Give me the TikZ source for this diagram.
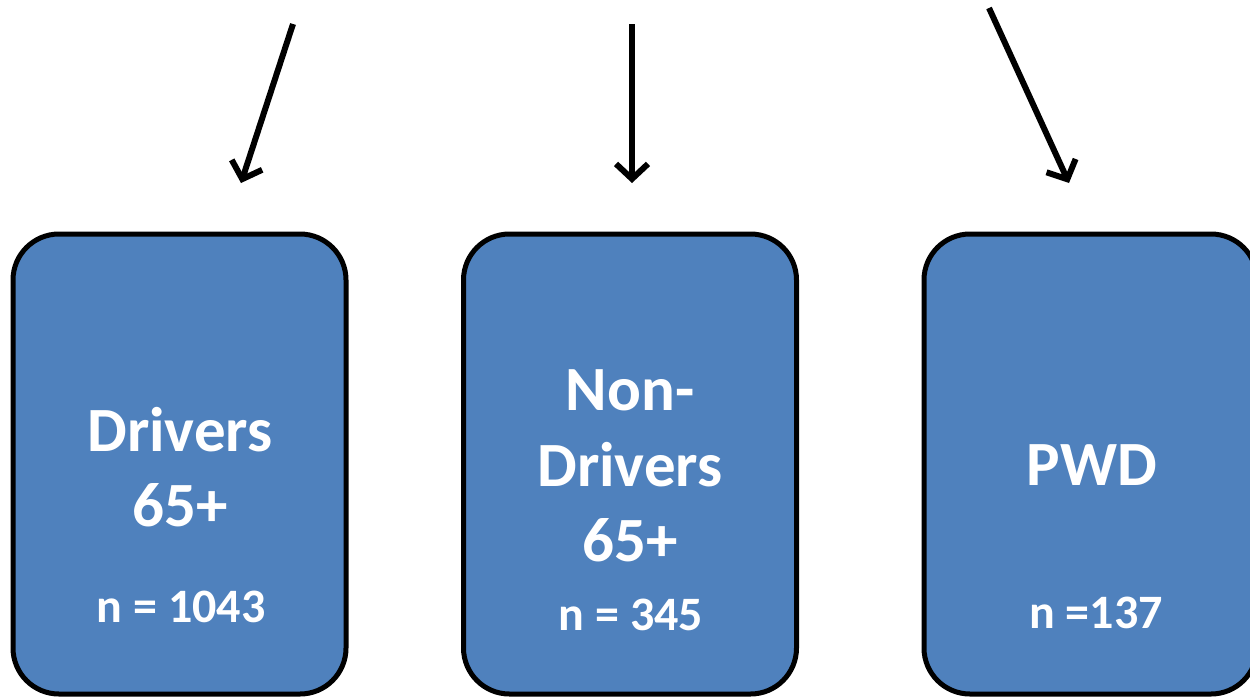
\documentclass[tikz,border=0pt]{standalone}
\usepackage{fontspec}
\setmainfont{Carlito}
\usetikzlibrary{arrows.meta}
\definecolor{boxblue}{HTML}{4F81BD}
\tikzset{
  x=1pt,y=-1pt,
  groupbox/.style={draw=black,line width=5pt,fill=boxblue,rounded corners=46pt,
    minimum width=333pt,minimum height=460pt,inner sep=0pt},
  bigtxt/.style={text=white,font=\bfseries\fontsize{63}{75}\selectfont,inner sep=0pt,anchor=center},
  ntxt/.style={text=white,font=\bfseries\fontsize{48}{56}\selectfont,inner sep=0pt,anchor=center},
  feed/.style={line width=6pt,-{Straight Barb[length=15pt,width=32pt,line width=6pt]}}
}
\begin{document}
\begin{tikzpicture}
\useasboundingbox (0,0) rectangle (1250,697);
\clip (0,0) rectangle (1250,697);
\node[groupbox] (b1) at (179.5,464) {};
\node[groupbox] (b2) at (630,464) {};
\node[groupbox] (b3) at (1090.5,464) {};
\node[bigtxt] (t1a) at (180,430) {Drivers};
\node[bigtxt] (t1b) at (180,505) {65+};
\node[ntxt] (t1c) at (181,607) {n = 1043};
\node[bigtxt] (t2a) at (630,390) {Non-};
\node[bigtxt] (t2b) at (630,465) {Drivers};
\node[bigtxt] (t2c) at (630,540) {65+};
\node[ntxt] (t2d) at (631,615) {n = 345};
\node[bigtxt] (t3a) at (1092,465) {PWD};
\node[ntxt] (t3b) at (1096,613) {n =137};
\coordinate (s1) at (293,24);
\coordinate (e1) at (241,183);
\coordinate (s2) at (632,24);
\coordinate (e2) at (632,183);
\coordinate (s3) at (989,8);
\coordinate (e3) at (1069,183);
\draw[feed] (s1) -- (e1);
\draw[feed] (s2) -- (e2);
\draw[feed] (s3) -- (e3);
\end{tikzpicture}
\end{document}
